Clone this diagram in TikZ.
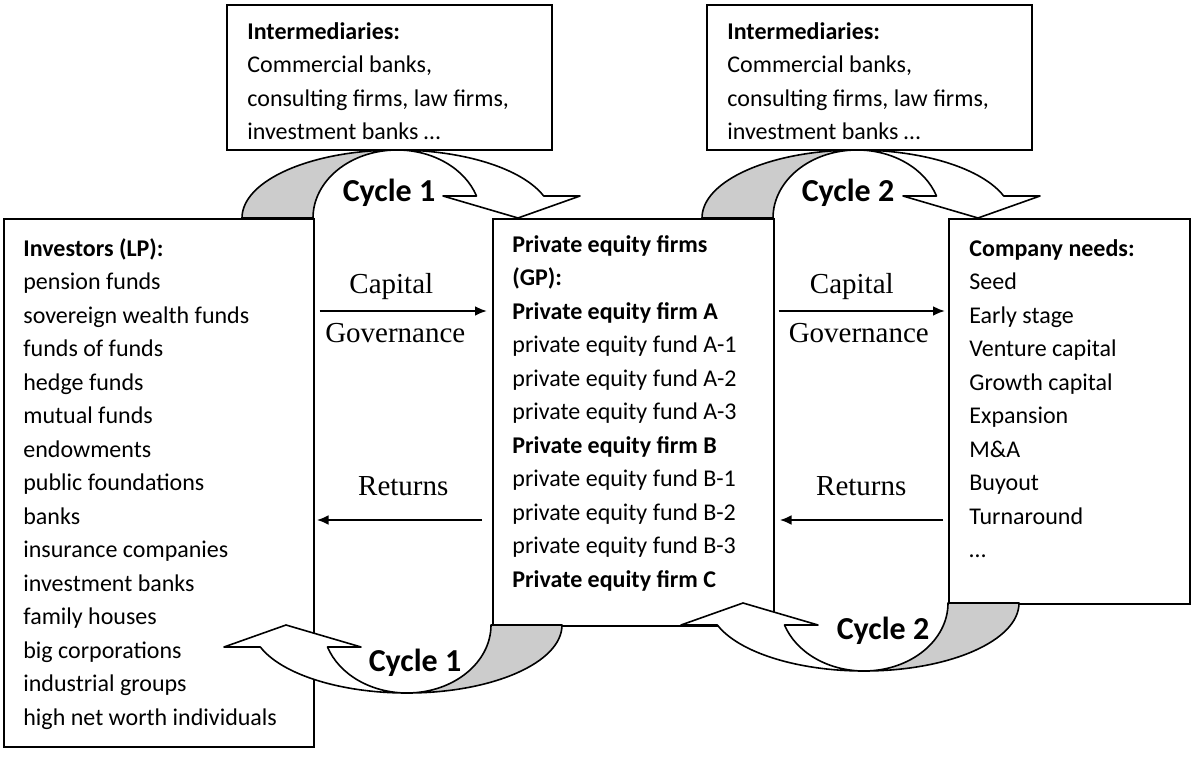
\documentclass[tikz,border=0pt]{standalone}
\usepackage{fontspec}
\setmainfont{Carlito}
\newfontfamily\flowfont{Liberation Serif}
\usetikzlibrary{positioning, arrows.meta}

\begin{document}
\begin{tikzpicture}[x=0.5pt, y=-0.5pt,
  panel/.style = {rectangle, draw, line width=0.8pt, anchor=north west, inner sep=0pt},
  listtext/.style = {anchor=north west, align=left, inner sep=0pt,
                     font=\fontsize{12}{16.75}\selectfont},
  flow/.style = {line width=1.2pt, -{Latex[length=6pt, width=5pt]}},
  flowtext/.style = {inner sep=0pt, font=\flowfont\fontsize{14.5}{16}\selectfont},
  cyclelabel/.style = {anchor=base, inner sep=0pt, font=\bfseries\fontsize{16}{19}\selectfont},
  band/.style = {line width=0.8pt, line join=round}
  ]
\path[use as bounding box, fill=white] (0,0) rectangle (1192,758);

% boxes
\node (interA) [panel, minimum width=162.5pt, minimum height=72.5pt] at (226,4) {};
\node (interB) [panel, minimum width=162.5pt, minimum height=72.5pt] at (706,4) {};
\node (lp) [panel, minimum width=155pt, minimum height=264pt] at (3,218) {};
\node (gp) [panel, minimum width=140.5pt, minimum height=203.5pt] at (492,218) {};
\node (cn) [panel, minimum width=120.5pt, minimum height=192.5pt] at (948,218) {};

% box texts
\node (interAtext) [listtext] at ([shift={(21,11.5)}]interA.north west)
  {\strut\textbf{Intermediaries:}\\ Commercial banks,\\ consulting firms, law firms,\\ investment banks …};
\node (interBtext) [listtext] at ([shift={(21,11.5)}]interB.north west)
  {\strut\textbf{Intermediaries:}\\ Commercial banks,\\ consulting firms, law firms,\\ investment banks …};
\node (lptext) [listtext] at ([shift={(20,14.5)}]lp.north west)
  {\strut\textbf{Investors (LP):}\\ pension funds\\ sovereign wealth funds\\ funds of funds\\
   hedge funds\\ mutual funds\\ endowments\\ public foundations\\ banks\\ insurance companies\\
   investment banks\\ family houses\\ big corporations\\ industrial groups\\ high net worth individuals};
\node (gptext) [listtext] at ([shift={(20,10.5)}]gp.north west)
  {\strut\textbf{Private equity firms}\\ \textbf{(GP):}\\ \textbf{Private equity firm A}\\
   private equity fund A-1\\ private equity fund A-2\\ private equity fund A-3\\
   \textbf{Private equity firm B}\\ private equity fund B-1\\ private equity fund B-2\\
   private equity fund B-3\\ \textbf{Private equity firm C}};
\node (cntext) [listtext] at ([shift={(21,14.5)}]cn.north west)
  {\strut\textbf{Company needs:}\\ Seed\\ Early stage\\ Venture capital\\ Growth capital\\
   Expansion\\ M\&A\\ Buyout\\ Turnaround\\ …};

% flows
\draw [flow] ([shift={(5,93)}]lp.north east) -- ([shift={(-5,93)}]gp.north west)
  node[flowtext, midway, above=5pt, xshift=-6pt] {Capital}
  node[flowtext, midway, below=5.5pt, xshift=-4pt] {Governance};
\draw [flow] ([shift={(-10,302)}]gp.north west) -- ([shift={(2,302)}]lp.north east)
  node[flowtext, midway, above=11.5pt, xshift=2pt] {Returns};
\draw [flow] ([shift={(4,93)}]gp.north east) -- ([shift={(-3,93)}]cn.north west)
  node[flowtext, midway, above=5pt, xshift=-5pt] {Capital}
  node[flowtext, midway, below=5.5pt, xshift=-1.5pt] {Governance};
\draw [flow] ([shift={(-5,302)}]cn.north west) -- ([shift={(5,302)}]gp.north east)
  node[flowtext, midway, above=11.5pt] {Returns};

% curved cycle arrows
\foreach \cx/\cy/\rot in {397/218/0, 857/218/0, 407/625/180, 864/603/180}{
  \begin{scope}[shift={(\cx,\cy)}, rotate=\rot]
    \filldraw[band, fill=black!20] (-155,0)
      arc[start angle=180, end angle=270, x radius=155, y radius=68]
      arc[start angle=270, end angle=180, x radius=84, y radius=68] -- cycle;
    \filldraw[band, fill=white] (0,-68)
      arc[start angle=270, end angle=341.13, x radius=155, y radius=68]
      -- (183,-22) -- (121,0) -- (46,-22) -- (79.5,-22)
      arc[start angle=341.13, end angle=270, x radius=84, y radius=68] -- cycle;
  \end{scope}
}

\node (cycA) [cyclelabel] at (389,202) {Cycle 1};
\node (cycB) [cyclelabel] at (848,202) {Cycle 2};
\node (cycC) [cyclelabel] at (415,671) {Cycle 1};
\node (cycD) [cyclelabel] at (883,639) {Cycle 2};
\end{tikzpicture}
\end{document}
